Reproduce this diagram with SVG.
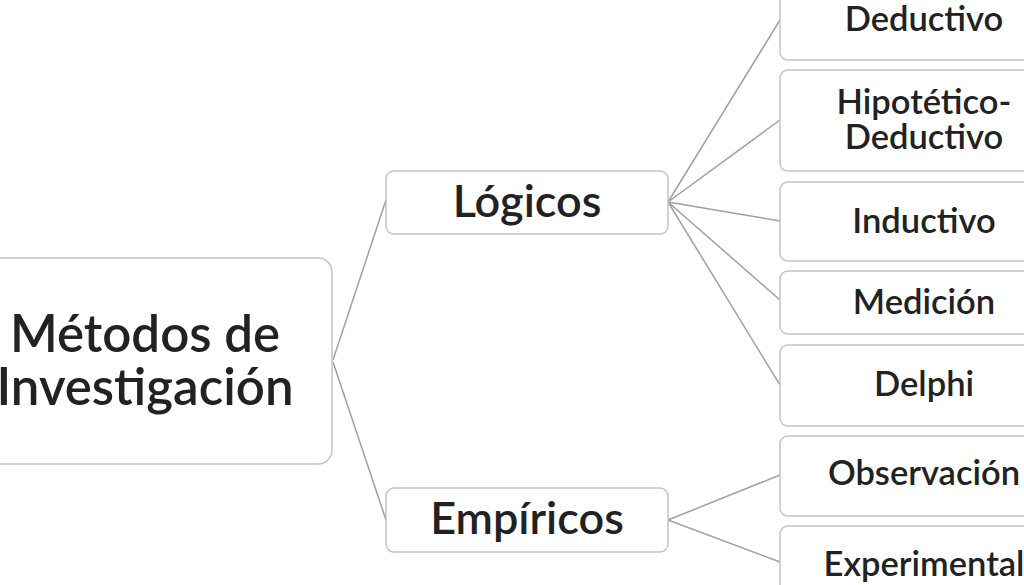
<svg xmlns="http://www.w3.org/2000/svg" width="1024" height="585" viewBox="0 0 1024 585">
<style>
.b{fill:#fff;stroke:#c4c4c4;stroke-width:1.5}
.t{font-family:Lato,"Liberation Sans",sans-serif;fill:#222;text-anchor:middle;dominant-baseline:central;font-weight:600}
.s{font-size:34.5px}
.l{stroke:#a0a0a0;stroke-width:1.5;fill:none}
</style>
<rect width="1024" height="585" fill="#fff"/>
<g id="connectors">
<path class="l" d="M333 360L386 200M333 362L386 520M668 202L780 20M668 202L780 120M668 202L780 221M668 202L780 300M668 202L780 385M668 520L780 475M668 520L780 562"/>
</g>
<g id="root"><rect class="b" x="-20" y="258" width="352" height="206" rx="14"/><text class="t" x="145" y="332" font-size="51">Métodos de</text><text class="t" x="145" y="385" font-size="51">Investigación</text></g>
<g id="logicos"><rect class="b" x="386" y="171" width="282" height="63" rx="8"/><text class="t" x="527" y="200" font-size="45">Lógicos</text></g>
<g id="empiricos"><rect class="b" x="386" y="488" width="282" height="64" rx="8"/><text class="t" x="527" y="517" font-size="45">Empíricos</text></g>
<g id="deductivo"><rect class="b" x="780" y="-20" width="260" height="80" rx="8"/><text class="t s" x="924" y="17">Deductivo</text></g>
<g id="hipotetico"><rect class="b" x="780" y="70" width="260" height="101" rx="8"/><text class="t s" x="924" y="100">Hipotético-</text><text class="t s" x="924" y="135">Deductivo</text></g>
<g id="inductivo"><rect class="b" x="780" y="182" width="260" height="79" rx="8"/><text class="t s" x="924" y="219">Inductivo</text></g>
<g id="medicion"><rect class="b" x="780" y="271" width="260" height="63" rx="8"/><text class="t s" x="924" y="300">Medición</text></g>
<g id="delphi"><rect class="b" x="780" y="345" width="260" height="81" rx="8"/><text class="t s" x="924" y="382">Delphi</text></g>
<g id="observacion"><rect class="b" x="780" y="436" width="260" height="80" rx="8"/><text class="t s" x="924" y="471">Observación</text></g>
<g id="experimental"><rect class="b" x="780" y="526" width="260" height="80" rx="8"/><text class="t s" x="924" y="562">Experimental</text></g>
</svg>
